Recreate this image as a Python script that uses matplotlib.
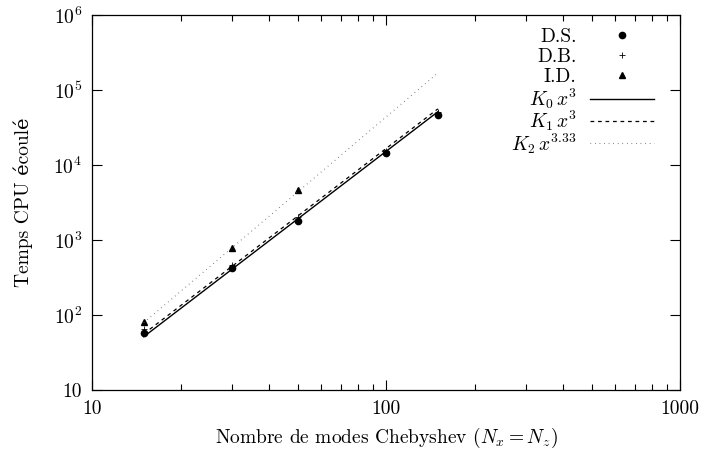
"""Temps CPU en fonction du nombre de modes Chebyshev (log-log)."""

import matplotlib

matplotlib.use("Agg")

import matplotlib.pyplot as plt
import numpy as np
from matplotlib.ticker import FixedLocator, FuncFormatter, LogLocator, NullFormatter

N_MODES = [15, 30, 50, 100, 150]
CPU_DS = [58, 420, 1800, 14300, 47000]
CPU_DB = [66, 460, 2000, 15500, 51000]
N_MODES_ID = [15, 30, 50]
CPU_ID = [80, 780, 4600]

FIT_RANGE = [15, 150]
K0, K1, K2 = 0.0152, 0.0166, 0.00957
P0, P1, P2 = 3.0, 3.0, 3.33

plt.rcParams["font.family"] = ["cmr10", "DejaVu Serif"]
plt.rcParams["mathtext.fontset"] = "cm"
plt.rcParams["axes.formatter.use_mathtext"] = True
plt.rcParams["axes.unicode_minus"] = False

FS = 14


def ylabel_fmt(v, _pos):
    if v <= 10:
        return "10"
    return rf"$10^{{{int(round(np.log10(v)))}}}$"


def main() -> None:
    fig = plt.figure(figsize=(7.02, 4.54), dpi=100)
    ax = fig.add_axes([0.131, 0.141, 0.838, 0.826])

    pts = [
        ax.plot(N_MODES, CPU_DS, "o", color="black", markersize=4.5, label="D.S.")[0],
        ax.plot(N_MODES, CPU_DB, "+", color="black", markersize=5, markeredgewidth=0.6, label="D.B.")[0],
        ax.plot(N_MODES_ID, CPU_ID, "^", color="black", markersize=4.5, label="I.D.")[0],
    ]

    xf = np.array(FIT_RANGE, dtype=float)
    fits = [
        ax.plot(xf, K0 * xf**P0, "-", color="black", linewidth=1.0, label=r"$K_0\,x^3$")[0],
        ax.plot(xf, K1 * xf**P1, color="black", linewidth=0.9, dashes=(3, 3), label=r"$K_1\,x^3$")[0],
        ax.plot(xf, K2 * xf**P2, color="#555555", linewidth=0.8, dashes=(0.6, 3.5),
                label=r"$K_2\,x^{3.33}$")[0],
    ]

    ax.set_xscale("log")
    ax.set_yscale("log")
    ax.set_xlim(10, 1000)
    ax.set_ylim(10, 1e6)

    ax.xaxis.set_major_locator(FixedLocator([10, 100, 1000]))
    ax.xaxis.set_major_formatter(FuncFormatter(lambda v, _p: f"{int(round(v))}"))
    ax.xaxis.set_minor_locator(LogLocator(base=10, subs=np.arange(2, 10)))
    ax.xaxis.set_minor_formatter(NullFormatter())
    ax.yaxis.set_major_locator(FixedLocator([10, 1e2, 1e3, 1e4, 1e5, 1e6]))
    ax.yaxis.set_major_formatter(FuncFormatter(ylabel_fmt))
    ax.yaxis.set_minor_locator(FixedLocator([]))

    ax.tick_params(which="both", direction="in", top=True, right=True, labelsize=FS, width=0.8)
    ax.tick_params(which="major", length=7, pad=7)
    ax.tick_params(which="minor", length=4)
    for spine in ax.spines.values():
        spine.set_linewidth(0.9)

    ax.set_xlabel(r"Nombre de modes Chebyshev ($N_x = N_z$)", fontsize=FS, labelpad=6)
    ax.set_ylabel("Temps CPU écoulé", fontsize=FS, labelpad=15)

    common = dict(
        frameon=False,
        markerfirst=False,
        numpoints=1,
        fontsize=FS,
        handlelength=3.3,
        handletextpad=0.7,
        borderpad=0.0,
        borderaxespad=0.0,
        loc="upper right",
    )
    leg1 = ax.legend(handles=pts, labelspacing=0.12, bbox_to_anchor=(0.956, 0.966), **common)
    ax.add_artist(leg1)
    ax.legend(handles=fits, labelspacing=-0.12, bbox_to_anchor=(0.956, 0.809), **common)

    fig.savefig("out.png", dpi=100)
    plt.close(fig)


if __name__ == "__main__":
    main()
